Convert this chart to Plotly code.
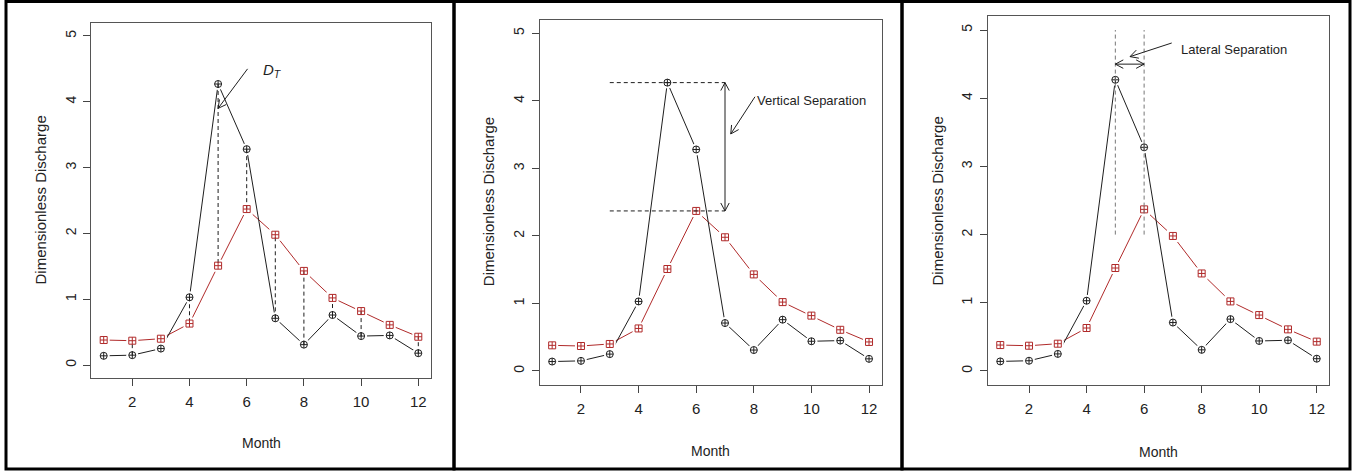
import math
import plotly.graph_objects as go

# ---------------- data ----------------
months = list(range(1, 13))
observed = [0.14, 0.15, 0.25, 1.03, 4.27, 3.28, 0.71, 0.31, 0.76, 0.44, 0.45, 0.18]
simulated = [0.38, 0.37, 0.40, 0.63, 1.51, 2.37, 1.98, 1.43, 1.02, 0.82, 0.61, 0.43]
x_ticks = [2, 4, 6, 8, 10, 12]
y_ticks = [0, 1, 2, 3, 4, 5]
dt_months = [2, 4, 5, 6, 7, 8, 9, 10, 12]
x_title = "Month"
y_title = "Dimensionless Discharge"
dt_label = "<i>D</i><sub><i>T</i></sub>"
vert_label = "Vertical Separation"
lat_label = "Lateral Separation"

# ---------------- layout geometry (pixels) ----------------
W, H = 1364, 471
X_RANGE = [0.56, 12.44]
Y_RANGE = [-0.2, 5.2]
panels = [  # left, right, top, bottom of plotting box; title positions
    dict(l=91.1, r=430.9, t=22.8, b=378.2, ytx=40, mty=442.7),
    dict(l=539.5, r=881.7, t=19.8, b=384.5, ytx=488, mty=450.7),
    dict(l=987.6, r=1329.4, t=16.4, b=384.6, ytx=937, mty=451.7),
]

BLACK = "#1e1e1e"
RED = "#b02a2a"
FONT = "Liberation Sans, Arial"


def to_px(p, x, y):
    g = panels[p]
    px = g["l"] + (x - X_RANGE[0]) / (X_RANGE[1] - X_RANGE[0]) * (g["r"] - g["l"])
    py = g["b"] - (y - Y_RANGE[0]) / (Y_RANGE[1] - Y_RANGE[0]) * (g["b"] - g["t"])
    return px, py


def paper(px, py):
    return px / W, 1 - py / H


shapes = []
annotations = []
R_DASH = "4px,3px"


def seg_shape(p, x0, y0, x1, y1, color=BLACK, dash="solid", width=1):
    ax = "" if p == 0 else str(p + 1)
    shapes.append(dict(type="line", xref="x" + ax, yref="y" + ax,
                       x0=x0, y0=y0, x1=x1, y1=y1,
                       line=dict(color=color, width=width, dash=dash)))


def head(p, xt, yt, xf, yf, L=9, ang=28):
    """open V arrow head at (xt,yt) pointing away from (xf,yf)"""
    tx, ty = to_px(p, xt, yt)
    fx, fy = to_px(p, xf, yf)
    a = math.atan2(fy - ty, fx - tx)
    for s in (-1, 1):
        b = a + s * math.radians(ang)
        ex, ey = tx + L * math.cos(b), ty + L * math.sin(b)
        x0, y0 = paper(tx, ty)
        x1, y1 = paper(ex, ey)
        shapes.append(dict(type="line", xref="paper", yref="paper",
                           x0=x0, y0=y0, x1=x1, y1=y1,
                           line=dict(color=BLACK, width=1)))


def arrow(p, xf, yf, xt, yt, both=False):
    seg_shape(p, xf, yf, xt, yt)
    head(p, xt, yt, xf, yf)
    if both:
        head(p, xf, yf, xt, yt)


fig = go.Figure()

for p in range(3):
    ax = "" if p == 0 else str(p + 1)
    xa, ya = "x" + ax, "y" + ax
    # lines
    fig.add_trace(go.Scatter(x=months, y=simulated, mode="lines", xaxis=xa, yaxis=ya,
                             line=dict(color=RED, width=1), showlegend=False, hoverinfo="skip"))
    fig.add_trace(go.Scatter(x=months, y=observed, mode="lines", xaxis=xa, yaxis=ya,
                             line=dict(color=BLACK, width=1), showlegend=False, hoverinfo="skip"))
    # white masks to create R type="b" gaps
    fig.add_trace(go.Scatter(x=months, y=simulated, mode="markers", xaxis=xa, yaxis=ya,
                             marker=dict(symbol="square", size=12, color="white", line=dict(width=0)),
                             showlegend=False, hoverinfo="skip"))
    fig.add_trace(go.Scatter(x=months, y=observed, mode="markers", xaxis=xa, yaxis=ya,
                             marker=dict(symbol="circle", size=12, color="white", line=dict(width=0)),
                             showlegend=False, hoverinfo="skip"))
    if p == 0:
        xs, ys = [], []
        for m in dt_months:
            xs += [m, m, None]
            ys += [observed[m - 1], simulated[m - 1], None]
        fig.add_trace(go.Scatter(x=xs, y=ys, mode="lines", xaxis=xa, yaxis=ya,
                                 line=dict(color=BLACK, width=1, dash=R_DASH),
                                 showlegend=False, hoverinfo="skip"))
    # markers
    fig.add_trace(go.Scatter(x=months, y=simulated, mode="markers", xaxis=xa, yaxis=ya,
                             marker=dict(symbol="square-cross-open", size=7, color=RED,
                                         line=dict(width=1, color=RED)),
                             showlegend=False, name="Simulated"))
    fig.add_trace(go.Scatter(x=months, y=observed, mode="markers", xaxis=xa, yaxis=ya,
                             marker=dict(symbol="circle-cross-open", size=7, color=BLACK,
                                         line=dict(width=1, color=BLACK)),
                             showlegend=False, name="Observed"))

# ---- panel annotations ----
pk_o = max(observed)
pk_s = max(simulated)
m_o = months[observed.index(pk_o)]
m_s = months[simulated.index(pk_s)]

# panel 1: D_T
arrow(0, 6.03, 4.5, 5.0, 3.9)
annotations.append(dict(xref="x", yref="y", x=6.5, y=4.48, text=dt_label, showarrow=False,
                        xanchor="left", yanchor="middle",
                        font=dict(family=FONT, size=15, color=BLACK)))

# panel 2: vertical separation
seg_shape(1, 3, pk_o, 7, pk_o, dash=R_DASH)
seg_shape(1, 3, pk_s, 7, pk_s, dash=R_DASH)
arrow(1, 7, pk_s, 7, pk_o, both=True)
arrow(1, 8.04, 4.06, 7.2, 3.51)
annotations.append(dict(xref="x2", yref="y2", x=8.04, y=4.0, text=vert_label, showarrow=False,
                        xanchor="left", yanchor="middle",
                        font=dict(family=FONT, size=13, color=BLACK)))

# panel 3: lateral separation
seg_shape(2, m_o, 2, m_o, 5, color="#777777", dash=R_DASH)
seg_shape(2, m_s, 2, m_s, 5, color="#777777", dash=R_DASH)
arrow(2, m_o, 4.5, m_s, 4.5, both=True)
arrow(2, 6.96, 4.81, 5.51, 4.61)
annotations.append(dict(xref="x3", yref="y3", x=7.2, y=4.71, text=lat_label, showarrow=False,
                        xanchor="left", yanchor="middle",
                        font=dict(family=FONT, size=13, color=BLACK)))

# axis titles
for p, g in enumerate(panels):
    cx = (g["l"] + g["r"]) / 2
    cy = (g["t"] + g["b"]) / 2
    xx, yy = paper(g["ytx"], cy)
    annotations.append(dict(xref="paper", yref="paper", x=xx, y=yy, text=y_title,
                            textangle=-90, showarrow=False, xanchor="center", yanchor="middle",
                            font=dict(family=FONT, size=15, color="#222")))
    xx, yy = paper(cx, g["mty"])
    annotations.append(dict(xref="paper", yref="paper", x=xx, y=yy, text=x_title,
                            showarrow=False, xanchor="center", yanchor="middle",
                            font=dict(family=FONT, size=14, color="#222")))

# frames around panels
frame = dict(color="black", width=3)
for x0, x1 in [(6, 454), (454, 902), (902, 1350)]:
    a0, b0 = paper(x0, 1.5)
    a1, b1 = paper(x1, 469)
    shapes.append(dict(type="rect", xref="paper", yref="paper", x0=a0, y0=b1, x1=a1, y1=b0,
                       line=frame, layer="above"))

layout = dict(width=W, height=H, margin=dict(l=0, r=0, t=0, b=0),
              paper_bgcolor="white", plot_bgcolor="white",
              shapes=shapes, annotations=annotations, showlegend=False)

for p, g in enumerate(panels):
    ax = "" if p == 0 else str(p + 1)
    xd = [g["l"] / W, g["r"] / W]
    yd = [1 - g["b"] / H, 1 - g["t"] / H]
    layout["xaxis" + ax] = dict(domain=xd, range=X_RANGE, tickvals=x_ticks,
                                ticktext=[str(v) for v in x_ticks],
                                showline=True, mirror=True, linecolor="#555", linewidth=1,
                                ticks="outside", ticklen=7, tickcolor="#444", tickwidth=1,
                                showgrid=False, zeroline=False, ticklabelstandoff=3,
                                tickfont=dict(family=FONT, size=15, color="#222"),
                                anchor="y" + ax, fixedrange=True)
    layout["yaxis" + ax] = dict(domain=yd, range=Y_RANGE, tickvals=y_ticks,
                                ticktext=[str(v) for v in y_ticks],
                                showline=True, mirror=True, linecolor="#555", linewidth=1,
                                ticks="outside", ticklen=7, tickcolor="#444", tickwidth=1,
                                showgrid=False, zeroline=False, tickangle=-90,
                                ticklabelstandoff=2,
                                tickfont=dict(family=FONT, size=14, color="#222"),
                                anchor="x" + ax, fixedrange=True)

fig.update_layout(**layout)
fig.write_html("out.html", config={"displayModeBar": False},
               post_script="document.body.style.margin='0';document.body.style.overflow='hidden';")
